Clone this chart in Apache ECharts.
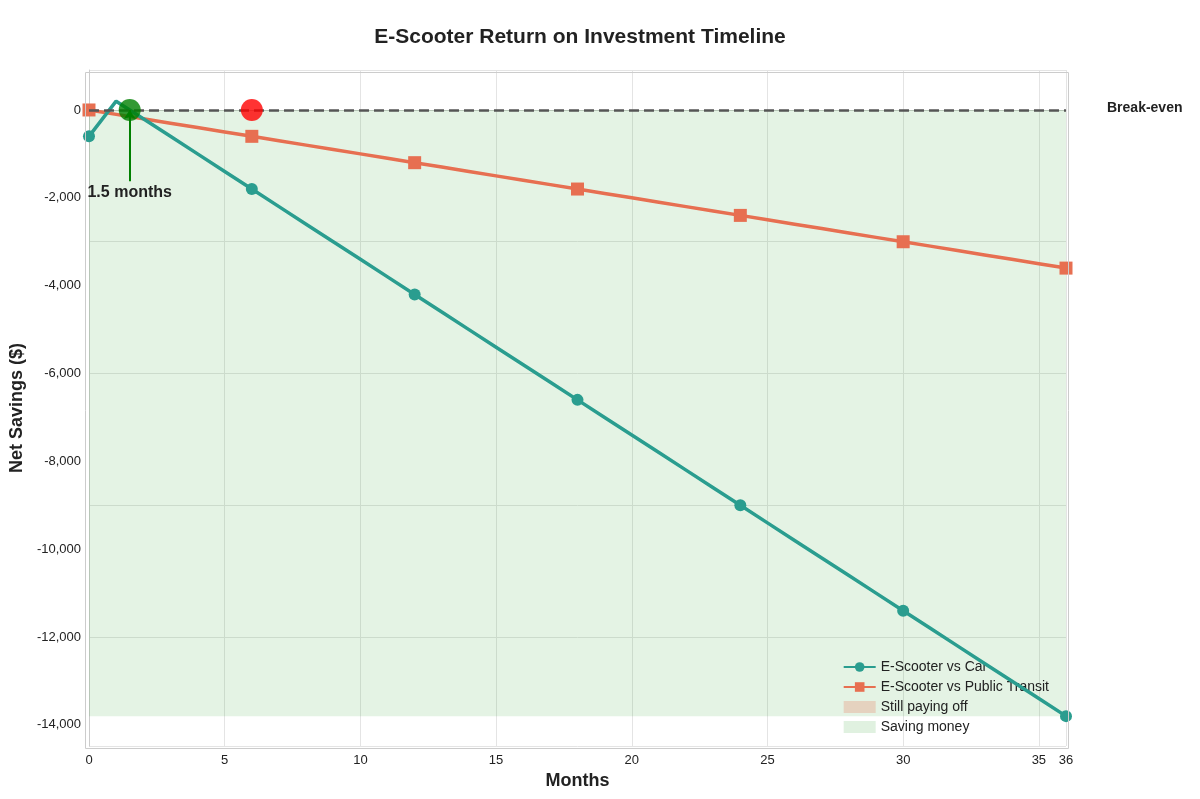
<!DOCTYPE html><html><head><meta charset="utf-8"><script src="https://cdn.jsdelivr.net/npm/echarts@6/dist/echarts.min.js"></script></head><body style="margin:0"><div id="c" style="width:1200px;height:799px"></div><script>
const months=[0,1,2,3,4,5,6,7,8,9,10,11,12,13,14,15,16,17,18,19,20,21,22,23,24,25,26,27,28,29,30,31,32,33,34,35,36];
const carVals=[-600,200,-200,-600,-1000,-1400,-1800,-2200,-2600,-3000,-3400,-3800,-4200,-4600,-5000,-5400,-5800,-6200,-6600,-7000,-7400,-7800,-8200,-8600,-9000,-9400,-9800,-10200,-10600,-11000,-11400,-11800,-12200,-12600,-13000,-13400,-13800];
const transitVals=months.map((m,i)=>[0,-100,-200,-300,-400,-500,-600,-700,-800,-900,-1000,-1100,-1200,-1300,-1400,-1500,-1600,-1700,-1800,-1900,-2000,-2100,-2200,-2300,-2400,-2500,-2600,-2700,-2800,-2900,-3000,-3100,-3200,-3300,-3400,-3500,-3600][i]);
const yTicks=[0,-2000,-4000,-6000,-8000,-10000,-12000,-14000];
const carBreak=1.5, transitBreak=6.0;
const markEvery=[0,6,12,18,24,30,36];
const car=months.map((m,i)=>({value:[m,carVals[i]],symbolSize:markEvery.includes(m)?12:0}));
const tr=months.map((m,i)=>({value:[m,transitVals[i]],symbolSize:markEvery.includes(m)?13:0}));
const ch=echarts.init(document.getElementById('c'));
const F='Liberation Sans, Arial, sans-serif';
ch.setOption({
 textStyle:{fontFamily:F},
 title:{text:'E-Scooter Return on Investment Timeline',left:575,top:22,textAlign:'center',textStyle:{fontSize:21,fontWeight:'bold',color:'#222'}},
 grid:{left:83,right:134,top:70,bottom:53},
 xAxis:{type:'value',min:0,max:36,interval:5,name:'Months',nameLocation:'middle',nameGap:26,nameTextStyle:{fontSize:18,fontWeight:'bold',color:'#222'},
  axisLine:{lineStyle:{color:'#ccc'}},axisTick:{show:false},axisLabel:{color:'#222',fontSize:13},splitLine:{lineStyle:{color:'#e4e4e4'}}},
 yAxis:{type:'value',min:-14480,max:910,name:'Net Savings ($)',nameLocation:'middle',nameGap:62,nameTextStyle:{fontSize:18,fontWeight:'bold',color:'#222'},
  axisLine:{show:true,lineStyle:{color:'#ccc'}},axisTick:{show:false},
  axisLabel:{customValues:yTicks,color:'#222',fontSize:13},splitLine:{lineStyle:{color:'#e4e4e4'}}},
 legend:{right:146,bottom:60,orient:'vertical',itemGap:6,itemWidth:32,itemHeight:12,textStyle:{fontSize:14,color:'#222'},
  data:['E-Scooter vs Car','E-Scooter vs Public Transit',{name:'Still paying off',icon:'rect',itemStyle:{color:'rgba(231,111,81,0.25)'}},{name:'Saving money',icon:'rect',itemStyle:{color:'rgba(46,160,44,0.15)'}}]},
 graphic:[{type:'rect',right:0,top:0,z:-1,shape:{width:1,height:1},style:{fill:'transparent'}},
  {type:'text',left:1107,top:101,style:{text:'Break-even',font:'bold 14px '+F,fill:'#222'}},
  {type:'rect',left:83,top:70,shape:{width:983,height:676},style:{fill:'none',stroke:'#ccc',lineWidth:1},z:10}],
 series:[
  {name:'Saving money',type:'line',data:[],itemStyle:{color:'rgba(46,160,44,0.15)'},
   markArea:{silent:true,itemStyle:{color:'rgba(46,160,44,0.13)'},data:[[{coord:[0,0]},{coord:[36,-13800]}]]}},
  {name:'Still paying off',type:'line',data:[],itemStyle:{color:'rgba(231,111,81,0.25)'}},
  {name:'E-Scooter vs Car',type:'line',data:car,symbol:'circle',color:'#2a9d8f',lineStyle:{width:3.5},z:4},
  {name:'E-Scooter vs Public Transit',type:'line',data:tr,symbol:'rect',color:'#e76f51',lineStyle:{width:3.5},z:3,
   markLine:{silent:true,symbol:'none',lineStyle:{type:'dashed',color:'#555',width:2.5},label:{show:false},data:[[{coord:[0,0]},{coord:[36,0]}]]}},
  {type:'scatter',clip:false,z:6,data:[{value:[carBreak,0],itemStyle:{color:'#008000'},symbolSize:22},{value:[transitBreak,0],itemStyle:{color:'#ff0000'},symbolSize:22}],
   markLine:{silent:true,symbol:['none','arrow'],symbolSize:9,label:{show:false},data:[
    [{coord:[carBreak,-1620],lineStyle:{color:'#008000',width:2,type:'solid'}},{coord:[carBreak,0]}],
    [{coord:[transitBreak,1820],lineStyle:{color:'#ff0000',width:2,type:'solid'}},{coord:[transitBreak,0]}]]},
   markPoint:{symbol:'circle',symbolSize:1,itemStyle:{color:'transparent'},data:[
    {coord:[carBreak,-1880],label:{show:true,formatter:'1.5 months',fontSize:16,fontWeight:'bold',color:'#222'}},
    {coord:[transitBreak,2100],label:{show:true,formatter:'6.0 months',fontSize:16,fontWeight:'bold',color:'#222'}}]}}
 ]
});
</script></body></html>
